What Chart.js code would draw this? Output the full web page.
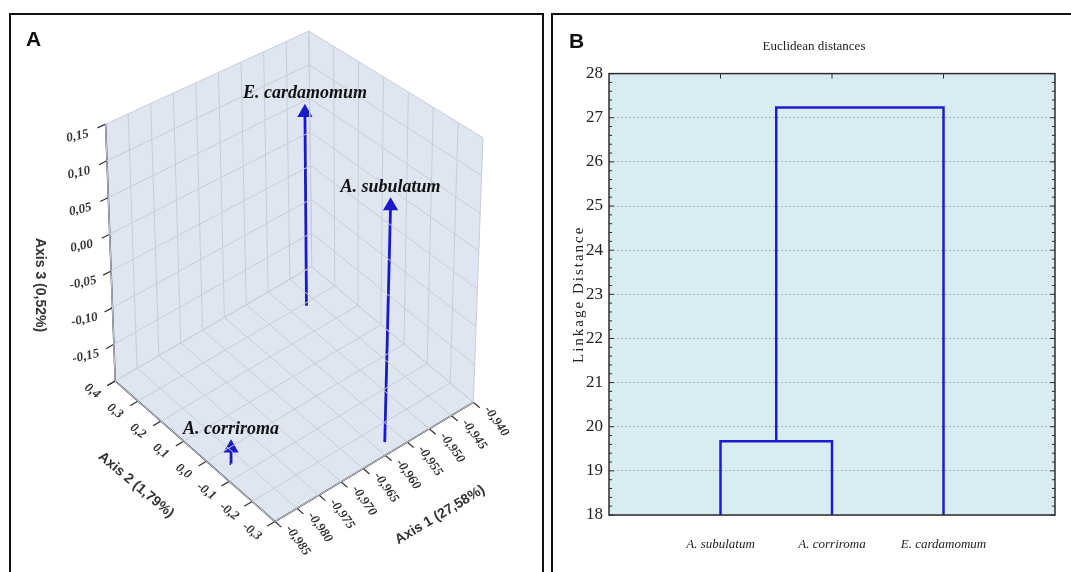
<!DOCTYPE html>
<html>
<head>
<meta charset="utf-8">
<script src="https://cdn.jsdelivr.net/npm/chart.js@4.4.1/dist/chart.umd.min.js"></script>
<style>
  html, body { margin: 0; padding: 0; background: #fff; }
  body { width: 1071px; height: 572px; position: relative; overflow: hidden; }
  canvas { position: absolute; top: 0; }
  #pca { left: 0; }
  #dendro { left: 545px; }
  .frame { position: absolute; border: 2.5px solid #111; box-sizing: border-box; }
  #frameA { left: 9px; top: 13px; width: 535px; height: 620px; }
  #frameB { left: 551px; top: 13px; width: 560px; height: 620px; }
  .tag { position: absolute; font: bold 21px "Liberation Sans", Arial, sans-serif; color: #111; }
</style>
</head>
<body>
<canvas id="pca" width="545" height="572"></canvas>
<canvas id="dendro" width="526" height="572"></canvas>
<div class="frame" id="frameA"></div>
<div class="frame" id="frameB"></div>
<div class="tag" style="left:26px; top:27px;">A</div>
<div class="tag" style="left:569px; top:29px;">B</div>
<script>
// ---- panel A: ordination scores ----
const species = ['E. cardamomum', 'A. subulatum', 'A. corriroma'];
const axis1 = [-0.947, -0.958, -0.982];
const axis2 = [0.29, -0.26, -0.05];
const axis3 = [0.078, 0.107, -0.18];
const axis1Ticks = [-0.985, -0.980, -0.975, -0.970, -0.965, -0.960, -0.955, -0.950, -0.945, -0.940];
const axis2Ticks = [-0.3, -0.2, -0.1, 0.0, 0.1, 0.2, 0.3, 0.4];
const axis3Ticks = [-0.20, -0.15, -0.10, -0.05, 0.00, 0.05, 0.10, 0.15];

// ---- panel B: dendrogram ----
const leaves = ['A. subulatum', 'A. corriroma', 'E. cardamomum'];
const linkHeights = [19.67, 27.23];
const distTicks = [18, 19, 20, 21, 22, 23, 24, 25, 26, 27, 28];

// 3D view: screen position of the 8 box corners, trilinear mapping
const U0 = axis1Ticks[0], U1 = axis1Ticks[axis1Ticks.length - 1];
const V0 = axis2Ticks[0], V1 = axis2Ticks[axis2Ticks.length - 1];
const W0 = axis3Ticks[0], W1 = axis3Ticks[axis3Ticks.length - 1];
const corner = {
  '000': [275, 529], '100': [480, 406], '010': [110, 384], '110': [313, 266],
  '001': [279, 240], '101': [490, 133], '011': [100, 119], '111': [310, 23]
};
function proj(a1, a2, a3) {
  const u = (a1 - U0) / (U1 - U0), v = (a2 - V0) / (V1 - V0), w = (a3 - W0) / (W1 - W0);
  let x = 0, y = 0;
  for (const k in corner) {
    const f = (k[0] === '1' ? u : 1 - u) * (k[1] === '1' ? v : 1 - v) * (k[2] === '1' ? w : 1 - w);
    x += f * corner[k][0];
    y += f * corner[k][1];
  }
  return {x: x, y: y};
}

const gridColor = '#c6ccd9';
const axisColor = '#333';
function seg(p, q, color, width) {
  return {data: [p, q], showLine: true, pointRadius: 0, borderColor: color, borderWidth: width};
}

const sets = [];
// floor
axis1Ticks.forEach(t => sets.push(seg(proj(t, V0, W0), proj(t, V1, W0), gridColor, 1)));
axis2Ticks.forEach(t => sets.push(seg(proj(U0, t, W0), proj(U1, t, W0), gridColor, 1)));
// back-left wall
axis1Ticks.forEach(t => sets.push(seg(proj(t, V1, W0), proj(t, V1, W1), gridColor, 1)));
axis3Ticks.forEach(t => sets.push(seg(proj(U0, V1, t), proj(U1, V1, t), gridColor, 1)));
// back-right wall
axis2Ticks.forEach(t => sets.push(seg(proj(U1, t, W0), proj(U1, t, W1), gridColor, 1)));
axis3Ticks.forEach(t => sets.push(seg(proj(U1, V0, t), proj(U1, V1, t), gridColor, 1)));
// axes with tick marks
const du = (U1 - U0) * 0.04, dv = (V1 - V0) * 0.04;
sets.push(seg(proj(U0, V1, W0), proj(U0, V1, W1), axisColor, 1.5));
sets.push(seg(proj(U0, V1, W0), proj(U0, V0, W0), axisColor, 1.5));
sets.push(seg(proj(U0, V0, W0), proj(U1, V0, W0), axisColor, 1.5));
axis3Ticks.forEach(t => sets.push(seg(proj(U0, V1, t), proj(U0 - du, V1, t), axisColor, 1.2)));
axis2Ticks.forEach(t => sets.push(seg(proj(U0, t, W0), proj(U0 - du, t, W0), axisColor, 1.2)));
axis1Ticks.forEach(t => sets.push(seg(proj(t, V0, W0), proj(t, V0 - dv, W0), axisColor, 1.2)));
// spikes with arrow heads
species.forEach((s, i) => {
  sets.push({
    data: [proj(axis1[i], axis2[i], W0), proj(axis1[i], axis2[i], axis3[i])],
    showLine: true, borderColor: '#1a1ac8', borderWidth: 2.8,
    pointRadius: [0, 6], pointStyle: 'triangle',
    pointBackgroundColor: '#1a1ac8', pointBorderColor: '#1a1ac8'
  });
});

const faces = [
  [[U0, V0, W0], [U1, V0, W0], [U1, V1, W0], [U0, V1, W0]],
  [[U0, V1, W0], [U1, V1, W0], [U1, V1, W1], [U0, V1, W1]],
  [[U1, V0, W0], [U1, V1, W0], [U1, V1, W1], [U1, V0, W1]]
];

function drawText(ctx, text, x, y, angle, font, color, align) {
  ctx.save();
  ctx.translate(x, y);
  ctx.rotate(angle * Math.PI / 180);
  ctx.font = font;
  ctx.fillStyle = color;
  ctx.textAlign = align || 'center';
  ctx.textBaseline = 'middle';
  ctx.fillText(text, 0, 0);
  ctx.restore();
}
const fmt = (v, d) => v.toFixed(d).replace('.', ',');

const boxPlugin = {
  id: 'box3d',
  beforeDatasetsDraw(chart) {
    const ctx = chart.ctx, sx = chart.scales.x, sy = chart.scales.y;
    ctx.save();
    ctx.fillStyle = '#e0e6f1';
    faces.forEach(face => {
      ctx.beginPath();
      face.forEach((c, i) => {
        const p = proj(c[0], c[1], c[2]);
        const x = sx.getPixelForValue(p.x), y = sy.getPixelForValue(p.y);
        i ? ctx.lineTo(x, y) : ctx.moveTo(x, y);
      });
      ctx.closePath();
      ctx.fill();
    });
    ctx.restore();
  },
  afterDatasetsDraw(chart) {
    const ctx = chart.ctx, sx = chart.scales.x, sy = chart.scales.y;
    const at = p => [sx.getPixelForValue(p.x), sy.getPixelForValue(p.y)];
    const tickFont = 'italic bold 13px "Liberation Serif", serif';
    axis3Ticks.slice(1).forEach(t => {
      const [x, y] = at(proj(U0, V1, t));
      drawText(ctx, fmt(t, 2), x - 28, y + 12, -12, tickFont, '#333');
    });
    axis2Ticks.forEach(t => {
      const [x, y] = at(proj(U0, t, W0));
      drawText(ctx, fmt(t, 1), x - 23, y + 10, 38, tickFont, '#333');
    });
    axis1Ticks.forEach(t => {
      const [x, y] = at(proj(t, V0, W0));
      drawText(ctx, fmt(t, 3), x + 23, y + 19, 55, tickFont, '#333');
    });
    const titleFont = 'bold 14px "Liberation Sans", Arial, sans-serif';
    drawText(ctx, 'Axis 3 (0,52%)', 40, 285, 90, titleFont, '#333');
    drawText(ctx, 'Axis 2 (1,79%)', 136, 485, 40, titleFont, '#333');
    drawText(ctx, 'Axis 1 (27,58%)', 440, 515, -31, titleFont, '#333');
    species.forEach((s, i) => {
      const [x, y] = at(proj(axis1[i], axis2[i], axis3[i]));
      drawText(ctx, s, x, y - 19, 0, 'bold italic 18px "Liberation Serif", serif', '#111');
    });
  }
};

new Chart(document.getElementById('pca'), {
  type: 'scatter',
  data: {datasets: sets},
  options: {
    responsive: false, animation: false, events: [],
    layout: {padding: 0},
    plugins: {legend: {display: false}, tooltip: {enabled: false}},
    scales: {
      x: {type: 'linear', min: 0, max: 545, display: false},
      y: {type: 'linear', min: 0, max: 572, reverse: true, display: false}
    }
  },
  plugins: [boxPlugin]
});

// ---- dendrogram ----
const base = distTicks[0];
const mid = (1 + 2) / 2;
const blue = '#1c1cd4';
const dendroSets = [
  {data: [{x: 1, y: base}, {x: 1, y: linkHeights[0]}, {x: 2, y: linkHeights[0]}, {x: 2, y: base}]},
  {data: [{x: mid, y: linkHeights[0]}, {x: mid, y: linkHeights[1]}, {x: 3, y: linkHeights[1]}, {x: 3, y: base}]}
].map(d => Object.assign(d, {showLine: true, pointRadius: 0, borderColor: blue, borderWidth: 2.5, borderJoinStyle: 'miter'}));

const framePlugin = {
  id: 'plotFrame',
  beforeDraw(chart) {
    const {ctx, chartArea: a} = chart;
    ctx.save();
    ctx.fillStyle = '#d9ecf2';
    ctx.fillRect(a.left, a.top, a.right - a.left, a.bottom - a.top);
    ctx.restore();
  },
  afterDraw(chart) {
    const {ctx, chartArea: a} = chart;
    const x = chart.scales.x, y = chart.scales.y;
    ctx.save();
    ctx.strokeStyle = '#2e2e2e';
    ctx.lineWidth = 1.5;
    ctx.strokeRect(a.left, a.top, a.right - a.left, a.bottom - a.top);
    ctx.lineWidth = 1;
    ctx.beginPath();
    for (let i = 0; i <= (distTicks.length - 1) * 5; i++) {
      const py = y.getPixelForValue(base + i * 0.2);
      const len = i % 5 === 0 ? 5 : 3;
      ctx.moveTo(a.left, py); ctx.lineTo(a.left + len, py);
      ctx.moveTo(a.right, py); ctx.lineTo(a.right - len, py);
    }
    leaves.forEach((_, i) => {
      const px = x.getPixelForValue(i + 1);
      ctx.moveTo(px, a.top); ctx.lineTo(px, a.top + 5);
    });
    ctx.stroke();
    ctx.translate(34, (a.top + a.bottom) / 2);
    ctx.rotate(-Math.PI / 2);
    ctx.font = '15px "Liberation Serif", serif';
    ctx.letterSpacing = '2px';
    ctx.fillStyle = '#222';
    ctx.textAlign = 'center';
    ctx.textBaseline = 'middle';
    ctx.fillText('Linkage Distance', 0, 0);
    ctx.restore();
  }
};

new Chart(document.getElementById('dendro'), {
  type: 'scatter',
  data: {datasets: dendroSets},
  options: {
    responsive: false, animation: false, events: [],
    layout: {padding: {left: 28, right: 16, top: 0, bottom: 0}},
    plugins: {
      legend: {display: false}, tooltip: {enabled: false},
      title: {display: true, text: 'Euclidean distances', color: '#222',
        font: {family: '"Liberation Serif", serif', size: 13, weight: 'normal'},
        padding: {top: 39, bottom: 19}}
    },
    scales: {
      x: {
        type: 'linear', min: 0, max: leaves.length + 1,
        afterFit: s => { s.height = 57; },
        grid: {display: false}, border: {display: false},
        ticks: {stepSize: 1, autoSkip: false, padding: 14, color: '#222',
          font: {family: '"Liberation Serif", serif', size: 13, style: 'italic'},
          callback: v => leaves[v - 1] || ''}
      },
      y: {
        type: 'linear', min: distTicks[0], max: distTicks[distTicks.length - 1],
        afterFit: s => { s.width = 36; },
        grid: {color: '#a6b6bc', lineWidth: 1, drawTicks: false},
        border: {display: false, dash: [2, 2]},
        ticks: {stepSize: 1, padding: 6, color: '#222',
          font: {family: '"Liberation Serif", serif', size: 17}}
      }
    }
  },
  plugins: [framePlugin]
});
</script>
</body>
</html>
